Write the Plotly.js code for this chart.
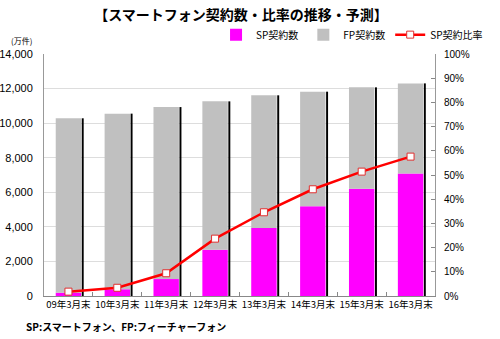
<!DOCTYPE html>
<html><head><meta charset="utf-8">
<script src="https://cdn.plot.ly/plotly-3.0.1.min.js"></script>
<style>body{margin:0;background:#fff}#c{width:500px;height:339px}</style>
</head><body><div id="c"></div>
<script>
const categories = ["09年3月末","10年3月末","11年3月末","12年3月末","13年3月末","14年3月末","15年3月末","16年3月末"];
const spCount = [190, 390, 980, 2680, 3930, 5190, 6210, 7080];
const totalCount = [10280, 10550, 10930, 11260, 11610, 11820, 12070, 12300];
const spRatio = [0.018, 0.034, 0.094, 0.237, 0.346, 0.441, 0.514, 0.576];
const fpCount = totalCount.map((t, i) => t - spCount[i]);

const FONT = "Liberation Sans, Arial, Noto Sans CJK JP, sans-serif";
const JP = "Noto Sans CJK JP, sans-serif";

const traces = [
  {type:'bar', x:categories, y:totalCount, width:0.04, offset:0.272, marker:{color:'#000'}, showlegend:false, hoverinfo:'skip'},
  {type:'bar', name:'SP契約数', x:categories, y:spCount, width:0.52, marker:{color:'#FF00FF'}},
  {type:'bar', name:'FP契約数', x:categories, y:fpCount, base:spCount, width:0.52, marker:{color:'#C0C0C0'}},
  {type:'scatter', mode:'lines+markers', name:'SP契約比率', x:categories, y:spRatio, yaxis:'y2',
   line:{color:'#FF0000', width:2.5}, marker:{symbol:'square', size:7, color:'#fff', line:{color:'#E03030', width:1}}}
];

const layout = {
  width:500, height:339,
  margin:{l:44, r:36, t:54, b:43},
  paper_bgcolor:'#fff', plot_bgcolor:'#fff',
  barmode:'overlay',
  font:{family:FONT, size:11, color:'#000'},
  title:{text:'<b>【スマートフォン契約数・比率の推移・予測】</b>', font:{family:JP, size:14, color:'#000'}, x:0.482, xanchor:'center', y:0.955, yanchor:'middle'},
  showlegend:true,
  legend:{orientation:'h', x:0.44, y:1.08, xanchor:'left', yanchor:'middle', font:{family:JP, size:10}, traceorder:'normal', itemwidth:30, tracegroupgap:0, bgcolor:'rgba(0,0,0,0)'},
  xaxis:{type:'category', showline:true, linecolor:'#888', linewidth:1, ticks:'inside', ticklen:4, tickcolor:'#888', tickson:'boundaries',
         tickangle:0, tickfont:{family:JP, size:9.5}, showgrid:false, zeroline:false},
  yaxis:{range:[0,14000], dtick:2000, tickformat:',d', showgrid:true, gridcolor:'#DDDDDD', gridwidth:1,
         showline:true, linecolor:'#999', linewidth:1, ticks:'', zeroline:false, ticklabelstandoff:8,
         tickfont:{family:FONT, size:11}},
  yaxis2:{overlaying:'y', side:'right', range:[0,1], dtick:0.1, tickformat:'.0%', showgrid:false,
          showline:true, linecolor:'#999', linewidth:1, ticks:'inside', ticklen:4, tickcolor:'#888', zeroline:false,
          ticklabelstandoff:6, tickfont:{family:FONT, size:10}},
  annotations:[
    {text:'(万件)', xref:'paper', yref:'paper', x:-0.09, y:1.055, xanchor:'left', yanchor:'middle', showarrow:false, font:{family:JP, size:8}},
    {text:'<b>SP:スマートフォン、FP:フィーチャーフォン</b>', xref:'paper', yref:'paper', x:-0.052, y:-0.125, xanchor:'left', yanchor:'middle', showarrow:false, font:{family:JP, size:10}}
  ]
};
Plotly.newPlot('c', traces, layout, {displayModeBar:false, staticPlot:true});
</script></body></html>
